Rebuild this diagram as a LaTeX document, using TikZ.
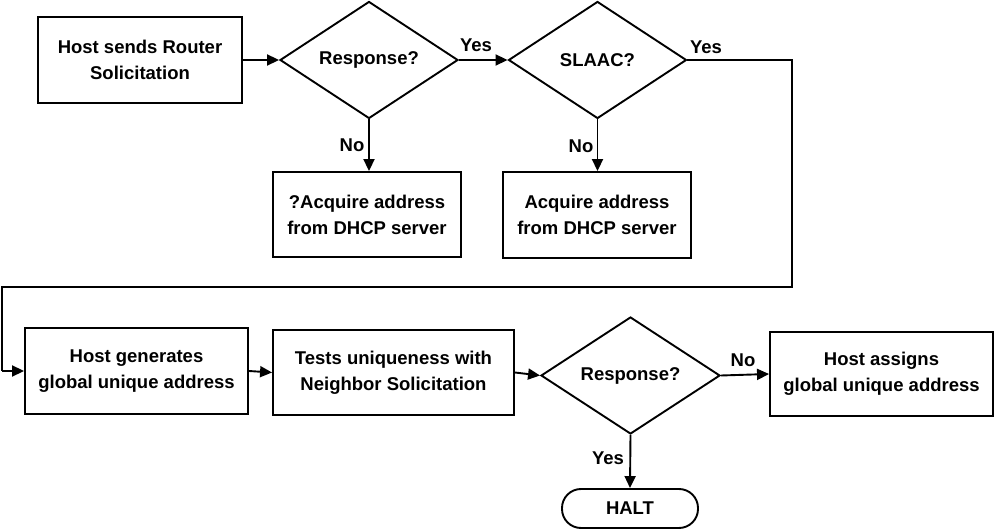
\documentclass[tikz,border=0pt]{standalone}
\usepackage{fontspec}
\setmainfont{Liberation Sans}
\usetikzlibrary{shapes.geometric,arrows.meta}
\begin{document}
\begin{tikzpicture}[x=1pt,y=-1pt,
  every node/.style={font=\bfseries\fontsize{18.5}{26}\selectfont},
  box/.style={draw,line width=1.9pt,align=center,inner sep=0pt},
  dia/.style={draw,diamond,line width=1.9pt,inner sep=0pt,minimum width=178pt,minimum height=117pt},
  conn/.style={line width=1.9pt,-{Triangle[length=12pt,width=11pt]}},
  plain/.style={line width=1.9pt},
  lbl/.style={inner sep=0pt}]
\useasboundingbox (0,0) rectangle (994,529);
\node[box,minimum width=204pt,minimum height=86pt] (rs) at (140,60) {Host sends Router\\Solicitation};
\node[dia] (d1) at (369,60) {Response?};
\node[dia] (d2) at (597.5,60) {SLAAC?};
\node[box,minimum width=188pt,minimum height=85pt] (dh1) at (367,214.5) {?Acquire address\\from DHCP server};
\node[box,minimum width=188pt,minimum height=86pt] (dh2) at (597,215) {Acquire address\\from DHCP server};
\node[box,minimum width=223pt,minimum height=86pt] (hg) at (136.5,371) {Host generates\\global unique address};
\node[box,minimum width=241pt,minimum height=85pt] (tu) at (393.5,372.5) {Tests uniqueness with\\Neighbor Solicitation};
\node[dia,minimum width=179pt] (d3) at (630.5,375.5) {Response?};
\node[box,minimum width=223pt,minimum height=84pt] (ha) at (881.5,374) {Host assigns\\global unique address};
\node[box,rounded corners=19pt,minimum width=136pt,minimum height=39pt] (halt) at (630,508.5) {HALT};
\coordinate (c1) at (792,60);
\coordinate (c2) at (792,287);
\coordinate (c3) at (2,287);
\coordinate (c4) at (2,371);
\draw[conn] (rs.east) -- (d1.west);
\draw[conn] (d1.east) -- (d2.west);
\draw[conn] (d1.south) -- (dh1.north -| d1.south);
\draw[conn] (d2.south) -- (dh2.north -| d2.south);
\draw[plain] (d2.east) -- (c1) -- (c2) -- (c3) -- (c4);
\draw[conn] (c4) -- (hg.west);
\draw[conn] (hg.east) -- (tu.west);
\draw[conn] (tu.east) -- (d3.west);
\draw[conn] (d3.east) -- (ha.west);
\draw[conn] (d3.south) -- (halt.north);
\node[lbl] (y1) at (476,45) {Yes};
\node[lbl] (y2) at (706,47) {Yes};
\node[lbl] (n1) at (352,145) {No};
\node[lbl] (n2) at (581,146) {No};
\node[lbl] (n3) at (743,360) {No};
\node[lbl] (y3) at (608,458) {Yes};
\end{tikzpicture}
\end{document}
